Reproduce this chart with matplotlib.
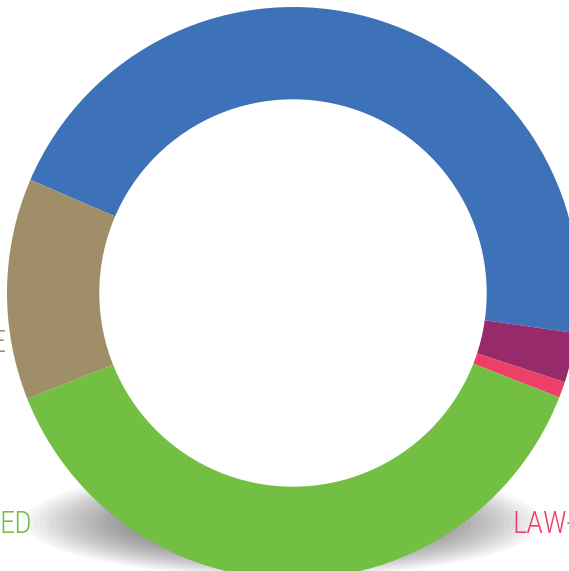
import matplotlib.pyplot as plt
from matplotlib.patches import Ellipse

# Datos del grafico (porcentajes)
categorias = ["Azul", "Morado", "LAW-", "ED", "E"]
valores = [45.75, 2.8, 0.9, 38.0, 12.5]
colores = ["#3d71b8", "#962a6b", "#ee4066", "#72bf44", "#a08e69"]

W, H = 569, 571
cx, cy = 293, H - 293
r_ext, r_int = 286, 193

fig = plt.figure(figsize=(W / 100, H / 100), dpi=100)
ax = fig.add_axes([0, 0, 1, 1])

# sombra difusa debajo del anillo
for i in range(30):
    k = i / 29
    ax.add_patch(Ellipse((cx - 10, H - 522), 520 - 320 * k, 110 - 70 * k,
                         color="#000000", alpha=0.024, lw=0, zorder=0))

ax.pie(valores, colors=colores, radius=r_ext, center=(cx, cy),
       startangle=156.7, counterclock=False,
       wedgeprops=dict(width=r_ext - r_int, linewidth=0))

# circulo blanco interior
ax.add_patch(plt.Circle((cx, cy), r_int, color="white", zorder=5))

fuente = ["Roboto Condensed", "Liberation Sans Narrow", "Roboto", "DejaVu Sans"]
ax.text(6, H - 352, "E", color=colores[4], fontsize=22, ha="right",
        va="baseline", family=fuente, fontweight="light")
ax.text(32, H - 533, "ED", color=colores[3], fontsize=22, ha="right",
        va="baseline", family=fuente, fontweight="light")
ax.text(512, H - 533, "LAW-", color=colores[2], fontsize=22, ha="left",
        va="baseline", family=fuente, fontweight="light")

ax.set_xlim(0, W)
ax.set_ylim(0, H)
ax.set_aspect("auto")
ax.axis("off")

fig.savefig("out.png", dpi=100)
